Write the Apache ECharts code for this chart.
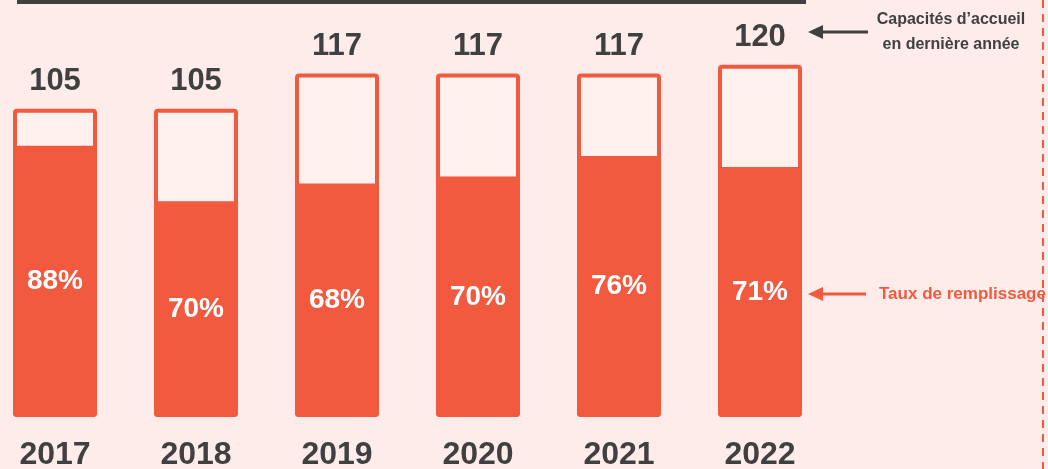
<!DOCTYPE html>
<html>
<head>
<meta charset="utf-8">
<script src="https://cdn.jsdelivr.net/npm/echarts@6/dist/echarts.min.js"></script>
<style>
  html, body { margin: 0; padding: 0; background: #fdece9; }
  #chart { width: 1048px; height: 469px; }
</style>
</head>
<body>
<div id="chart"></div>
<script>
const years = ["2017", "2018", "2019", "2020", "2021", "2022"];
const capacity = [105, 105, 117, 117, 117, 120];
const fillRate = [88, 70, 68, 70, 76, 71];

const RED = "#f15a3f";
const DARK = "#404040";
const FONT = "'Liberation Sans Narrow', 'Arial Narrow', 'Liberation Sans', Arial, sans-serif";

const filled = capacity.map((c, i) => +(c * fillRate[i] / 100).toFixed(2));

const chart = echarts.init(document.getElementById("chart"));
chart.setOption({
  backgroundColor: "#fdece9",
  animation: false,
  // boundaryGap off so the first/last bars sit on the grid edges
  grid: { left: 55, right: 288, top: 6, bottom: 52, outerBoundsMode: "none" },
  xAxis: {
    type: "category",
    data: years,
    boundaryGap: false,
    axisLine: { show: false },
    axisTick: { show: false },
    axisLabel: {
      margin: 22,
      fontFamily: FONT,
      fontWeight: "bold",
      fontSize: 32,
      color: DARK,
    },
  },
  yAxis: { type: "value", min: 0, max: 140, show: false },
  series: [
    {
      name: "capacity",
      type: "bar",
      data: capacity,
      barWidth: 84,
      barGap: "-100%",
      itemStyle: {
        color: "#fef1ee",
        borderColor: RED,
        borderWidth: 4,
        borderRadius: 2,
      },
      label: {
        show: true,
        position: "top",
        distance: 12,
        fontFamily: FONT,
        fontWeight: "bold",
        fontSize: 31,
        color: DARK,
      },
      z: 2,
    },
    {
      name: "taux",
      type: "bar",
      data: filled,
      barWidth: 84,
      itemStyle: {
        color: RED,
        borderColor: RED,
        borderWidth: 4,
        borderRadius: 2,
      },
      label: {
        show: true,
        position: "inside",
        formatter: (p) => fillRate[p.dataIndex] + "%",
        fontFamily: FONT,
        fontWeight: "bold",
        fontSize: 28,
        color: "#ffffff",
      },
      z: 3,
    },
  ],
  graphic: [
    // cut-off title underline
    { type: "line", shape: { x1: 17, y1: 2, x2: 806, y2: 2 }, style: { stroke: DARK, lineWidth: 4 } },
    // dashed frame edge
    {
      type: "line",
      shape: { x1: 1043, y1: 0, x2: 1043, y2: 469 },
      style: { stroke: RED, lineWidth: 2, lineDash: [8, 6] },
    },
    // capacity annotation
    { type: "line", shape: { x1: 820, y1: 32, x2: 868, y2: 32 }, style: { stroke: DARK, lineWidth: 3 } },
    {
      type: "polygon",
      shape: { points: [[808, 32], [823, 25], [823, 39]] },
      style: { fill: DARK },
    },
    {
      type: "text",
      style: {
        x: 951,
        y: 20,
        text: "Capacités d\u2019accueil",
        fontFamily: FONT,
        fontWeight: "bold",
        fontSize: 16,
        fill: DARK,
        align: "center",
        verticalAlign: "middle",
      },
    },
    {
      type: "text",
      style: {
        x: 951,
        y: 45,
        text: "en dernière année",
        fontFamily: FONT,
        fontWeight: "bold",
        fontSize: 16,
        fill: DARK,
        align: "center",
        verticalAlign: "middle",
      },
    },
    // taux annotation
    { type: "line", shape: { x1: 820, y1: 294, x2: 866, y2: 294 }, style: { stroke: RED, lineWidth: 3 } },
    {
      type: "polygon",
      shape: { points: [[808, 294], [823, 287], [823, 301]] },
      style: { fill: RED },
    },
    {
      type: "text",
      style: {
        x: 879,
        y: 294,
        text: "Taux de remplissage",
        fontFamily: FONT,
        fontWeight: "bold",
        fontSize: 17,
        fill: RED,
        verticalAlign: "middle",
      },
    },
  ],
});
</script>
</body>
</html>
